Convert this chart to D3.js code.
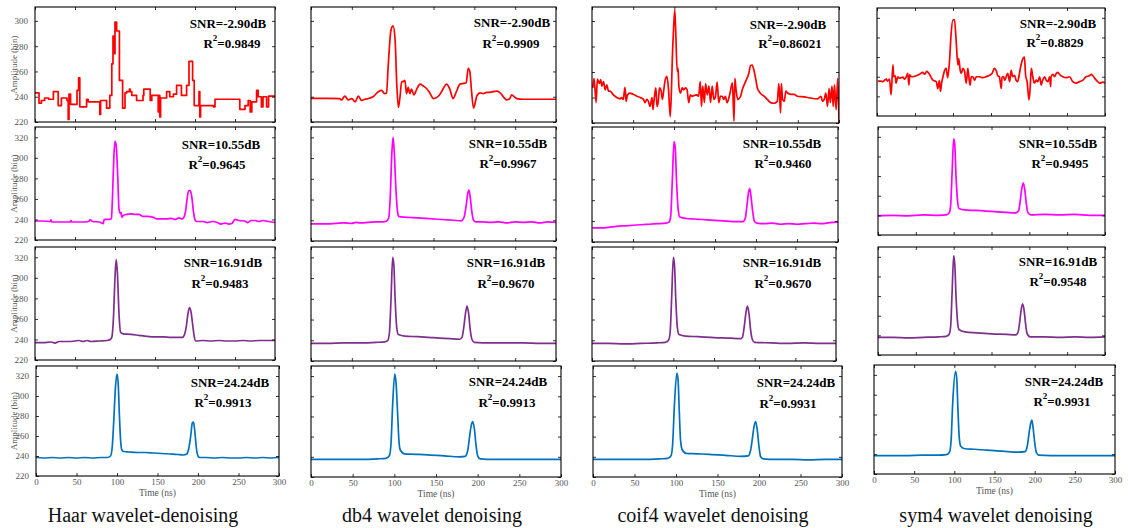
<!DOCTYPE html>
<html>
<head>
<meta charset="utf-8">
<script src="https://cdn.jsdelivr.net/npm/d3@7"></script>
<style>
  body { margin: 0; background: #fff; }
  svg { display: block; }
</style>
</head>
<body>
<svg id="chart"></svg>
<script>
// ---- data ----
var methods = ["Haar wavelet-denoising", "db4 wavelet denoising", "coif4 wavelet denoising", "sym4 wavelet denoising"];
var snrLabels = ["SNR=-2.90dB", "SNR=10.55dB", "SNR=16.91dB", "SNR=24.24dB"];
// r2Values[column][row]
var r2Values = [
  ["0.9849", "0.9645", "0.9483", "0.9913"],
  ["0.9909", "0.9967", "0.9670", "0.9913"],
  ["0.86021", "0.9460", "0.9670", "0.9931"],
  ["0.8829", "0.9495", "0.9548", "0.9931"]
];
var xTicks = [0, 50, 100, 150, 200, 250, 300];
var yTicksLow = [220, 240, 260, 280, 300];
var yTicksHigh = [220, 240, 260, 280, 300, 320];

// series: [time (ns), amplitude (bin)]
var haarSnr1 = [[0,243],[5,235],[8,237],[12,239],[17,238],[23,244],[29,233],[33,239],[40,237],[41.5,222],[42.5,242],[44.5,234],[52.5,245],[54.5,255],[56,232],[64.5,238],[66.5,236],[81,226],[82,237],[89.5,231],[93.5,241],[96,266],[97.5,288],[99,274],[100,299],[102,292],[104,292],[105.5,253],[109.5,231],[112.5,243],[114.5,244],[118,246],[119,244],[121,241],[127,237],[131,237],[135,241],[136,246],[144,237],[146,241],[154,228],[155,241],[156,224],[157,239],[164.5,244],[168.5,240],[173,242],[177,249],[183,241],[189.5,249],[192.5,268],[197,253],[199,233],[205,244],[206,224],[207,233],[223,232],[225,238],[256,230],[262.5,233],[266.5,237],[269,228],[271,236],[277,245],[279,240],[283,232],[285,240],[289.5,232],[292,240.5],[300,240.5]];
var haarSnr2 = [[0,238.5],[10,238.5],[19,238],[20,239.5],[21,237.5],[35,237.5],[44,237.5],[45,239],[46,237.5],[60,237.5],[67,238],[69,239.5],[72,238],[81,237.5],[83,236.5],[85.5,236],[86,239],[87.5,240],[93.5,240],[95.5,241],[97,265],[98.5,300],[100,316],[101.5,312],[103.5,280],[105,250],[106.5,246],[107.5,247],[108.5,242],[110.5,244],[115,245],[120,245.5],[125,245],[130,245],[135,243],[140,243],[148,242],[152,240.5],[160,240.5],[165,240.5],[170,241],[175,240],[180,241.5],[184,240.5],[186,242],[188,247],[190,259],[192,268],[194,268],[196,262],[198,248],[200,239.5],[202,238],[210,238],[215,237],[222,238],[228,237],[232,235.5],[238,236.5],[242,235.5],[246,236],[250,240],[255,239],[262,238.5],[266,237],[270,239],[275,239],[280,238],[285,239],[292,238],[300,237]];
var haarSnr3 = [[0,237],[10,237],[20,237.5],[25,236.5],[30,238],[40,238],[50,238.5],[55,239],[60,238],[65,239],[70,238],[80,238.5],[90,239],[94,240],[96,242],[98,260],[100,300],[101.5,318],[103,305],[105,265],[107,247],[110,245.5],[120,245],[130,244],[140,243],[150,242.5],[160,242.5],[170,242],[180,242],[184,242],[187,245],[189,252],[191,264],[193,271],[195,267],[197,255],[199,243],[201,238.5],[210,239],[220,238.5],[230,239],[240,238.5],[250,238.5],[260,239],[270,238.5],[280,239],[290,239],[300,239]];
var haarSnr4 = [[0,238.5],[10,238],[20,238.5],[30,238],[40,238.5],[50,238],[60,238.5],[70,238],[80,238.5],[88,238.5],[92,240],[94,248],[96,275],[98,308],[100,322],[101.5,312],[103,280],[104.5,255],[106,246],[108,244.5],[115,244],[125,243.5],[135,243.5],[145,243],[155,242.5],[165,242],[175,241.5],[182,241],[186,242],[188.5,247],[191,260],[193,273],[194.5,274],[196,265],[198,248],[200,240],[202,238.5],[210,238.5],[220,238],[230,238.5],[240,238],[250,238],[260,238.5],[270,238],[280,238.5],[290,238],[300,238.5]];

var db4Snr1 = [[0,238.7],[20,238.7],[35,238.5],[37.5,237.5],[41.5,240.5],[45.5,237.5],[50,238.5],[54,236],[58,240.5],[62,237],[66,238],[70,238.5],[76,240],[82.5,244],[86.5,245],[90,242.5],[92.5,243],[94.5,264],[98,293],[100.5,296],[103,285],[105,250],[107,231.5],[109,240],[111,252],[113,252],[115,253],[117,242.5],[119,247.5],[121,242.5],[123,246],[126,241.5],[129.5,246],[133.5,250],[137.5,248.5],[141.5,246.5],[145.5,243],[150,238.5],[154,239.5],[158,242],[162,246.5],[166,250],[170,246],[174,238.5],[178,244],[182.5,250],[186.5,250.5],[190,251],[192.5,262.5],[194.5,260],[196.5,245],[199,231],[201,235],[203,240.5],[207,243],[211,242.5],[215,243.5],[219,243.5],[227,244.5],[231,243.5],[235.5,240],[239.5,237.5],[243.5,238.5],[245.5,241.5],[248,240.5],[252,238.5],[260,238],[280,238],[300,238]];
var db4Snr2 = [[0,236.5],[10,236.5],[20,236.5],[30,237],[40,237.5],[50,237],[55,238],[60,237.5],[70,238],[80,238.5],[88,238.5],[92,239],[95,242],[97,262],[99,305],[100.5,320],[102,305],[104,270],[106,248],[108,243.5],[115,243],[125,242.5],[135,242],[145,241.5],[155,241],[165,240.5],[175,240],[184,239.5],[187,242],[190,254],[192,266],[193.5,269],[195,262],[197,248],[199,240],[202,238.5],[210,238.5],[220,238],[230,238.5],[240,237.5],[250,238.5],[260,238],[270,238.5],[280,237.5],[290,238.5],[300,238]];
var db4Snr3 = [[0,237],[20,237],[40,237.5],[60,237.5],[80,238],[90,238.5],[94,240],[96,247],[98,280],[100,320],[101.5,312],[103,280],[105,252],[107,245.5],[115,244],[130,243.5],[150,242.5],[170,241.5],[182,241],[185,243],[187,252],[189,265],[191,273],[193,266],[195,250],[197,241],[200,238],[220,237.5],[240,237.5],[260,237.5],[280,237],[300,237]];
var db4Snr4 = [[0,237.5],[20,237.5],[40,237.5],[60,237.5],[80,238],[90,238.5],[94,241],[96,253],[98,292],[100.5,322],[102,314],[104,282],[105.5,256],[107,247],[112,243],[125,242.5],[140,242],[160,241],[178,240],[185,240.5],[188,246],[190,258],[192,270],[194,275],[196,268],[198,252],[200,241],[203,238],[220,237.5],[240,237.5],[260,237.5],[280,237.5],[300,237.5]];

var coif4Snr1 = [[1,247.5],[2.5,255],[5,236],[6.5,254.5],[9,251],[10.5,254],[12,249],[14,252.5],[16,246],[18,250],[20,245],[22,245],[26,242],[30,240],[34,239],[36,240],[38,238.5],[40,248],[41.5,237],[43,242],[46,243.5],[50,242.5],[54.5,241],[58.5,240],[62.5,238.5],[64.5,236],[66.5,238.5],[68.5,237],[70.5,233],[73,240],[74,230.5],[75.5,238.5],[77.5,247.5],[79,233],[80.5,237],[82,247.5],[84,245],[85.5,238.5],[87,245],[89,254],[91,256.5],[93,246],[95,225],[96.5,246],[97.5,269.5],[99,293],[100.5,308.5],[101.5,295.5],[103.5,260.5],[104.5,263],[105.5,249],[107.5,243.5],[109.5,247.5],[111.5,246],[113.5,247.5],[115.5,246],[117.5,236],[119.5,242],[121.5,241],[123.5,241.5],[127.5,242],[129.5,241],[131.5,252.5],[133,233],[134.5,249],[136.5,236],[138,251],[140,242],[142,249],[144,236],[146,249],[148,238.5],[150,241],[152,252],[154,236],[156,241],[158,241],[160,238.5],[162,241],[164,236],[167.5,243],[170.5,251.5],[172.5,221.5],[173.5,255],[175,246],[177,238.5],[180.5,241],[182.5,246],[186.5,252.5],[190.5,259],[192.5,265],[194.5,265.5],[197,260.5],[199,254],[201,247],[205,243],[209,241],[213,238.5],[217,236],[221,235.5],[225,237],[227,251],[229,228],[230,251],[231.5,238.5],[233.5,237],[235.5,245],[237.5,243.5],[241.5,242.5],[245.5,242.5],[249.5,241],[257.5,240.5],[266,239.5],[274,239],[278,241],[280,237],[282,238.5],[284,243.5],[286,233],[288,247],[289.5,236],[291.5,249],[293,233],[294.5,250],[296.5,230.5],[298.5,255],[300,220]];
var coif4Snr2 = [[0,233.5],[10,233.5],[20,234],[30,235],[40,235.5],[50,236],[60,236.5],[70,237],[80,237.5],[90,238],[94,239],[96,245],[98,280],[100,316],[101.5,310],[103,280],[105,252],[107,244],[115,242.5],[125,242],[135,241.5],[145,241],[155,240.5],[165,240],[175,239.5],[184,239.5],[187,243],[189,255],[191,268],[192.5,271],[194,263],[196,249],[198,240],[201,238],[210,237.5],[220,238],[230,237],[240,237.5],[250,237],[260,237.5],[270,238],[280,237.5],[290,238.5],[300,239]];
var coif4Snr3 = [[0,237],[20,237],[40,236.5],[60,237],[80,237.5],[90,238],[94,240],[96,247],[98,282],[100,320],[101.5,312],[103,280],[105,252],[107,245.5],[115,244],[130,243.5],[150,242.5],[170,242],[182,241.5],[185,243],[187,252],[189,265],[191,273],[193,266],[195,250],[197,241],[200,238],[220,237.5],[240,237],[260,237.5],[280,237],[300,237]];
var coif4Snr4 = [[0,237.5],[20,237.5],[40,237.5],[60,237.5],[80,238],[90,238.5],[94,241],[96,253],[98,290],[101,323],[102.5,316],[104,284],[105.5,256],[107.5,247],[112,243.5],[125,243],[140,242.5],[160,241.5],[178,240.5],[187,241],[190,247],[192,258],[194,270],[196,275],[198,266],[200,250],[202,240],[205,238],[220,237.5],[240,237.5],[260,237],[280,237.5],[300,237.5]];

var sym4Snr1 = [[1,235.5],[5.5,235.5],[7.5,235],[12,237.5],[14,235.5],[16.5,237.5],[18.5,221.5],[21,252],[22,240],[24,241],[25,233.5],[27.5,240],[29.5,238.5],[34,239.5],[36,237.5],[38.5,240],[40.5,243.5],[42,231.5],[43,242],[45,240],[47,240],[51.5,241],[56,242.5],[60,244.5],[62.5,242.5],[65.5,245.5],[69,242.5],[73.5,236.5],[78,235],[80,228],[82,236],[83.5,225],[85,233.5],[86.5,239],[89,246.5],[91,248.5],[93,239],[95.5,257],[97.5,283.5],[100,298],[102,298],[104,278.5],[106.5,252],[107.5,258.5],[109.5,246.5],[111,243.5],[113,248.5],[115,246],[117.5,233.5],[119.5,248.5],[121,239],[122.5,231.5],[124,240],[126,240],[128.5,236.5],[130.5,240],[135,240],[139,239],[143.5,240],[148,241.5],[151.5,243.5],[154.5,248.5],[157,246],[159,241],[161,240],[163.5,228],[164.5,240],[166.5,240],[168,236.5],[170,240],[172,243.5],[174.5,235],[176.5,246.5],[178.5,240],[181,241.5],[183,236.5],[185,235],[187.5,243.5],[189.5,252],[192,258.5],[194,260],[195.5,241.5],[197.5,235],[200,216.5],[201.5,228],[203,248.5],[205,240],[207,233.5],[209.5,236.5],[211.5,235],[214,240],[216,231.5],[218,236.5],[220.5,240],[222.5,236.5],[225,235],[227,240],[228.5,230],[229,240],[231.5,242.5],[233.5,240],[236,243.5],[238,244.5],[240,242.5],[244.5,240],[249,239],[253.5,240],[257.5,235],[262,233.5],[266.5,235],[271,236.5],[275,240],[279.5,241],[282,242.5],[284,241],[288.5,236.5],[293,233.5],[297,234.5],[300,233.5]];
var sym4Snr2 = [[0,239.5],[20,240],[40,239.5],[60,240.5],[80,240],[90,240.5],[94,242.5],[96,250],[98,285],[100,318],[101.5,312],[103,282],[105,256],[107,247],[115,245.5],[130,245],[150,244],[170,243],[182,242.5],[186,245],[188,255],[190,267],[192,273],[194,266],[196,252],[198,243],[202,240.5],[220,241],[240,240.5],[260,241],[280,240],[300,240]];
var sym4Snr3 = [[0,238],[20,238],[40,237.5],[60,238],[80,238.5],[90,239],[94,241],[96,249],[98,285],[100,321],[101.5,312],[103,282],[105,255],[107,246],[115,243.5],[130,242.5],[150,241.5],[170,241],[182,240.5],[185,243],[187,252],[189,265],[191,272],[193,266],[195,252],[197,242],[201,238.5],[220,238.5],[240,238],[260,238.5],[280,238],[300,238.5]];
var sym4Snr4 = [[0,238.5],[20,238.5],[40,238.5],[60,239],[80,239],[90,239.5],[94,242],[96,254],[98,292],[101.5,323.5],[103,316],[104.5,285],[106,258],[108,248],[113,245.5],[125,245],[140,244],[160,243],[180,242],[188,242.5],[191,249],[193,261],[195,271],[196.5,274.5],[198,267],[200,252],[202,242],[205,239],[220,238.5],[240,238.5],[260,238.5],[280,238.5],[300,238.5]];

// series grid: [column][row]
var series = [
  [haarSnr1, haarSnr2, haarSnr3, haarSnr4],
  [db4Snr1, db4Snr2, db4Snr3, db4Snr4],
  [coif4Snr1, coif4Snr2, coif4Snr3, coif4Snr4],
  [sym4Snr1, sym4Snr2, sym4Snr3, sym4Snr4]
];

// ---- layout (pixel frames, y domains, annotation centres) ----
var rowColors = ["#ff0000", "#ff00ff", "#7e2f8e", "#0072bd"];
var frames = [
  // col 0 (Haar)
  [{x: [35, 275], y: [7, 122], dom: [220, 311], snr: [228, 23], r2: [232, 43]},
   {x: [35, 275], y: [127, 240], dom: [220, 330], snr: [221, 144], r2: [217, 164]},
   {x: [35, 275], y: [247, 360], dom: [220, 330], snr: [223, 262], r2: [220, 283]},
   {x: [36, 279], y: [366, 476], dom: [220, 330], snr: [230, 382], r2: [223, 402]}],
  // col 1 (db4)
  [{x: [311, 556], y: [7, 122], dom: [220, 311], snr: [512, 22], r2: [511, 43]},
   {x: [311, 556], y: [127, 241], dom: [220, 330], snr: [508, 143], r2: [508, 163]},
   {x: [311, 556], y: [247, 361], dom: [220, 330], snr: [506, 262], r2: [506, 283]},
   {x: [311, 561], y: [366, 477], dom: [220, 330], snr: [508, 381], r2: [507, 402]}],
  // col 2 (coif4)
  [{x: [592, 839], y: [7, 123], dom: [220, 311], snr: [788, 24], r2: [790, 43]},
   {x: [592, 838], y: [127, 242], dom: [220, 330], snr: [782, 143], r2: [783, 163]},
   {x: [592, 836], y: [247, 361], dom: [220, 330], snr: [782, 262], r2: [783, 283]},
   {x: [593, 842], y: [366, 477], dom: [220, 330], snr: [796, 382], r2: [788, 403]}],
  // col 3 (sym4)
  [{x: [877, 1105], y: [8, 116], dom: [200, 310], snr: [1058, 23], r2: [1055, 42]},
   {x: [878, 1105], y: [127, 235], dom: [220, 330], snr: [1058, 143], r2: [1060, 163]},
   {x: [878, 1105], y: [247, 355], dom: [220, 330], snr: [1058, 261], r2: [1058, 281]},
   {x: [874, 1115], y: [365, 474], dom: [220, 330], snr: [1064, 381], r2: [1062, 401]}]
];
var titleCentres = [143, 432, 713, 996];

var width = 1128, height = 528;
var serif = "'Liberation Serif', 'DejaVu Serif', 'Times New Roman', serif";

var svg = d3.select("#chart")
    .attr("width", width)
    .attr("height", height)
    .style("font-family", serif);

frames.forEach(function(colFrames, c) {
  colFrames.forEach(function(f, r) {
    var x = d3.scaleLinear().domain([0, 300]).range(f.x);
    var y = d3.scaleLinear().domain(f.dom).range([f.y[1], f.y[0]]);
    var yt = f.dom[1] > 315 ? yTicksHigh : yTicksLow;
    var g = svg.append("g");

    // the trace: Haar at low SNR is a step signal, the rest are smooth
    var line = d3.line()
        .x(function(d) { return x(d[0]); })
        .y(function(d) { return y(d[1]); })
        .curve(c === 0 && r === 0 ? d3.curveStepAfter : d3.curveMonotoneX);

    g.append("defs").append("clipPath")
        .attr("id", "clip" + c + r)
      .append("rect")
        .attr("x", f.x[0]).attr("y", f.y[0])
        .attr("width", f.x[1] - f.x[0]).attr("height", f.y[1] - f.y[0]);

    g.append("path")
        .datum(series[c][r])
        .attr("clip-path", "url(#clip" + c + r + ")")
        .attr("fill", "none")
        .attr("stroke", rowColors[r])
        .attr("stroke-width", 1.7)
        .attr("stroke-linejoin", "round")
        .attr("d", line);

    // inward ticks on all four sides
    var left = d3.axisLeft(y).tickValues(yt).tickSizeInner(-3).tickSizeOuter(0).tickPadding(7);
    if (c !== 0) left.tickFormat("");
    var right = d3.axisRight(y).tickValues(yt).tickSizeInner(-3).tickSizeOuter(0).tickFormat("");
    var top = d3.axisTop(x).tickValues(xTicks).tickSizeInner(-3).tickSizeOuter(0).tickFormat("");
    var bottom = d3.axisBottom(x).tickValues(xTicks).tickSizeInner(-3).tickSizeOuter(0).tickPadding(3);
    if (r !== 3) bottom.tickFormat("");

    g.append("g").attr("transform", "translate(" + f.x[0] + ",0)").call(left);
    g.append("g").attr("transform", "translate(" + f.x[1] + ",0)").call(right);
    g.append("g").attr("transform", "translate(0," + f.y[0] + ")").call(top);
    g.append("g").attr("transform", "translate(0," + f.y[1] + ")").call(bottom);

    g.selectAll(".domain").remove();
    g.selectAll(".tick line").attr("stroke", "#000").attr("stroke-width", 0.8);
    g.selectAll(".tick text")
        .attr("fill", "#555")
        .style("font-family", serif)
        .style("font-size", "9px");

    g.append("rect")
        .attr("x", f.x[0]).attr("y", f.y[0])
        .attr("width", f.x[1] - f.x[0]).attr("height", f.y[1] - f.y[0])
        .attr("fill", "none")
        .attr("stroke", "#000")
        .attr("stroke-width", 1.1);

    // annotations
    g.append("text")
        .attr("x", f.snr[0]).attr("y", f.snr[1])
        .attr("text-anchor", "middle")
        .attr("dominant-baseline", "central")
        .style("font-size", "13px")
        .style("font-weight", "bold")
        .text(snrLabels[r]);

    var t2 = g.append("text")
        .attr("x", f.r2[0]).attr("y", f.r2[1])
        .attr("text-anchor", "middle")
        .attr("dominant-baseline", "central")
        .style("font-size", "13px")
        .style("font-weight", "bold");
    t2.append("tspan").text("R");
    t2.append("tspan").attr("dy", -5).style("font-size", "9px").text("2");
    t2.append("tspan").attr("dy", 5).text("=" + r2Values[c][r]);

    if (c === 0) {
      g.append("text")
          .attr("transform", "translate(" + 14 + "," + ((f.y[0] + f.y[1]) / 2) + ") rotate(-90)")
          .attr("text-anchor", "middle")
          .attr("dominant-baseline", "central")
          .attr("fill", "#555")
          .style("font-size", "9px")
          .text("Amplitude (bin)");
    }
    if (r === 3) {
      g.append("text")
          .attr("x", (f.x[0] + f.x[1]) / 2)
          .attr("y", f.y[1] + 20)
          .attr("text-anchor", "middle")
          .attr("fill", "#555")
          .style("font-size", "9.5px")
          .text("Time (ns)");
    }
  });
});

svg.selectAll(".method")
    .data(methods)
    .enter().append("text")
    .attr("class", "method")
    .attr("x", function(d, i) { return titleCentres[i]; })
    .attr("y", 522)
    .attr("text-anchor", "middle")
    .style("font-size", "20px")
    .attr("fill", "#111")
    .text(function(d) { return d; });
</script>
</body>
</html>
